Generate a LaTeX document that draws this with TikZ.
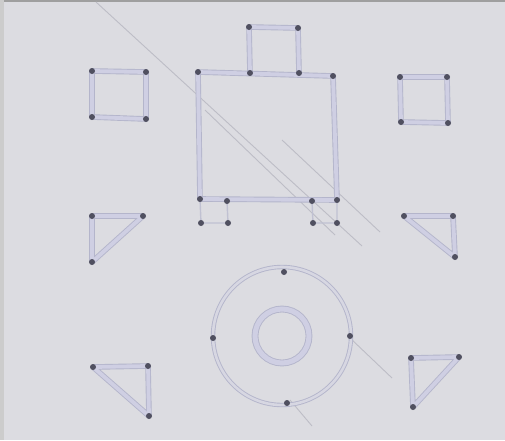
\documentclass[tikz,border=0pt]{standalone}
\usetikzlibrary{calc}
\definecolor{paper}{HTML}{DCDCE1}
\definecolor{edgeout}{HTML}{B4B5CB}
\definecolor{edgein}{HTML}{CFCFE3}
\definecolor{dotc}{HTML}{505060}
\definecolor{shade}{HTML}{BDBDC6}
\tikzset{
  bar/.style={draw=edgeout, double=edgein, line width=0.9pt, double distance=3.8pt, line join=round},
  faintbar/.style={draw=edgeout!70!paper, line width=1.4pt},
  pin/.style={circle, fill=dotc, inner sep=0pt, minimum size=6pt},
  artifact/.style={draw=shade, line width=0.9pt}
}
\begin{document}
\begin{tikzpicture}[x=1pt,y=-1pt]
\useasboundingbox (0,0) rectangle (505,440);
\fill[paper] (0,0) rectangle (505,440);
\fill[gray!75] (0,0) rectangle (505,2);
\fill[gray!40] (0,0) rectangle (4,440);
% photo shadow lines
\draw[artifact] (96,2) -- (362,246);
\draw[artifact] (205,110) -- (335,235);
\draw[artifact] (282,140) -- (380,232);
\draw[artifact] (350,338) -- (392,378);
\draw[artifact] (290,400) -- (312,426);

% top-left square
\coordinate (a1) at (92,71); \coordinate (a2) at (146,72);
\coordinate (a3) at (146,119); \coordinate (a4) at (92,117);
\draw[bar] (a1) -- (a2) -- (a3) -- (a4) -- cycle;
% top-right square
\coordinate (b1) at (400,77); \coordinate (b2) at (447,77);
\coordinate (b3) at (448,123); \coordinate (b4) at (401,122);
\draw[bar] (b1) -- (b2) -- (b3) -- (b4) -- cycle;
% mid-left triangle
\coordinate (c1) at (92,216); \coordinate (c2) at (143,216); \coordinate (c3) at (92,262);
\draw[bar] (c1) -- (c2) -- (c3) -- cycle;
% mid-right triangle
\coordinate (d1) at (404,216); \coordinate (d2) at (453,216); \coordinate (d3) at (455,257);
\draw[bar] (d1) -- (d2) -- (d3) -- cycle;
% bottom-left triangle
\coordinate (e1) at (93,367); \coordinate (e2) at (148,366); \coordinate (e3) at (149,416);
\draw[bar] (e1) -- (e2) -- (e3) -- cycle;
% bottom-right triangle
\coordinate (f1) at (411,358); \coordinate (f2) at (459,357); \coordinate (f3) at (413,407);
\draw[bar] (f1) -- (f2) -- (f3) -- cycle;

% central body
\coordinate (g1) at (198,72); \coordinate (g2) at (333,76);
\coordinate (g3) at (337,200); \coordinate (g4) at (200,199);
\coordinate (g5) at (250,73); \coordinate (g6) at (299,73);
\coordinate (g7) at (249,27); \coordinate (g8) at (298,28);
\coordinate (g9) at (227,201); \coordinate (g10) at (312,201);
\coordinate (h1) at (201,223); \coordinate (h2) at (228,223);
\coordinate (h3) at (313,223); \coordinate (h4) at (337,223);
\draw[bar] (g5) -- (g7) -- (g8) -- (g6);
\draw[bar] (g1) -- (g2) -- (g3) -- (g4) -- cycle;
\draw[faintbar] (g4) -- (h1) -- (h2) -- (g9);
\draw[faintbar] (g10) -- (h3) -- (h4) -- (g3);

% wheel
\coordinate (o) at (282,336);
\draw[draw=edgeout, double=paper!60!edgein, line width=0.9pt, double distance=2.6pt] (o) circle[radius=69];
\draw[draw=edgeout, double=edgein, line width=0.9pt, double distance=5pt] (o) circle[radius=27];
\coordinate (k1) at (284,272); \coordinate (k2) at (350,336);
\coordinate (k3) at (287,403); \coordinate (k4) at (213,338);

% pins
\foreach \p in {a1,a2,a3,a4,b1,b2,b3,b4,c1,c2,c3,d1,d2,d3,e1,e2,e3,f1,f2,f3,
  g1,g2,g3,g4,g5,g6,g7,g8,g9,g10,h1,h2,h3,h4,k1,k2,k3,k4}
  \node[pin] at (\p) {};
\end{tikzpicture}
\end{document}
